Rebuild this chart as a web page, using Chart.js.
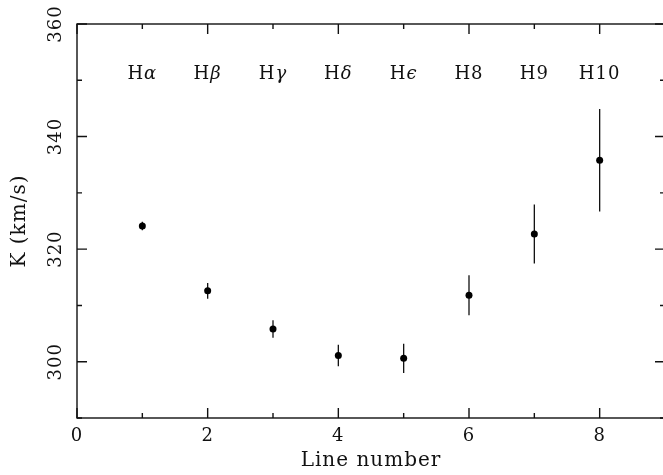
<!DOCTYPE html>
<html>
<head>
<meta charset="utf-8">
<script src="https://cdn.jsdelivr.net/npm/chart.js@4.4.1/dist/chart.umd.min.js"></script>
<style>
html,body{margin:0;padding:0;background:#fff;overflow:hidden;}
canvas{display:block;}
</style>
</head>
<body>
<canvas id="c" width="670" height="475" style="width:670px;height:475px"></canvas>
<script>
// ---- data ----
const lineNumber = [1, 2, 3, 4, 5, 6, 7, 8];
const lineNames  = ['Hα', 'Hβ', 'Hγ', 'Hδ', 'Hϵ', 'H8', 'H9', 'H10'];
const kValues    = [324.1, 312.6, 305.8, 301.1, 300.6, 311.8, 322.7, 335.8];
const kErrors    = [0.75, 1.4, 1.55, 1.9, 2.6, 3.55, 5.25, 9.1];
const xMajorTicks = [0, 2, 4, 6, 8];
const xMinorTicks = [1, 3, 5, 7];
const yMajorTicks = [300, 320, 340, 360];
const yMinorTicks = [290, 310, 330, 350];
const labelLevel = 351;

const FONT = '"DejaVu Serif", serif';
const INK = '#111';

const framePlugin = {
  id: 'frame',
  beforeDraw(chart) {
    chart.ctx.letterSpacing = '1px';
  },
  beforeDatasetsDraw(chart) {
    const {ctx, chartArea: a, scales: {x, y}} = chart;
    ctx.save();
    ctx.strokeStyle = INK;
    ctx.lineWidth = 1.3;
    // error bars
    ctx.beginPath();
    lineNumber.forEach((n, i) => {
      const px = x.getPixelForValue(n);
      ctx.moveTo(px, y.getPixelForValue(kValues[i] - kErrors[i]));
      ctx.lineTo(px, y.getPixelForValue(kValues[i] + kErrors[i]));
    });
    ctx.stroke();
    ctx.restore();
  },
  afterDraw(chart) {
    const {ctx, chartArea: a, scales: {x, y}} = chart;
    ctx.save();
    ctx.strokeStyle = INK;
    ctx.lineWidth = 1.4;
    ctx.strokeRect(a.left, a.top, a.right - a.left, a.bottom - a.top);
    ctx.beginPath();
    const xt = (v, len) => {
      const px = x.getPixelForValue(v);
      ctx.moveTo(px, a.bottom); ctx.lineTo(px, a.bottom - len);
      ctx.moveTo(px, a.top); ctx.lineTo(px, a.top + len);
    };
    const yt = (v, len) => {
      const py = y.getPixelForValue(v);
      ctx.moveTo(a.left, py); ctx.lineTo(a.left + len, py);
      ctx.moveTo(a.right, py); ctx.lineTo(a.right - len, py);
    };
    xMajorTicks.forEach(v => xt(v, 10));
    xMinorTicks.forEach(v => xt(v, 5));
    yMajorTicks.forEach(v => yt(v, 10));
    yMinorTicks.forEach(v => yt(v, 5));
    ctx.stroke();

    // rotated y tick labels
    ctx.fillStyle = INK;
    ctx.font = '18px ' + FONT;
    ctx.letterSpacing = '1px';
    ctx.textAlign = 'center';
    ctx.textBaseline = 'middle';
    yMajorTicks.forEach(v => {
      const py = y.getPixelForValue(v);
      ctx.save();
      ctx.translate(56, py);
      ctx.rotate(-Math.PI / 2);
      ctx.fillText(String(v), 0, 0);
      ctx.restore();
    });

    // line name labels
    const upFont = '18px ' + FONT;
    const itFont = 'italic 18px ' + FONT;
    lineNames.forEach((name, i) => {
      const head = name.charAt(0);
      const rest = name.slice(1);
      const greek = /[^0-9]/.test(rest);
      ctx.font = upFont;
      const w1 = ctx.measureText(head).width;
      ctx.font = greek ? itFont : upFont;
      const w2 = ctx.measureText(rest).width;
      const cx = x.getPixelForValue(lineNumber[i]);
      const cy = y.getPixelForValue(labelLevel);
      const x0 = cx - (w1 + w2) / 2;
      ctx.textAlign = 'left';
      ctx.font = upFont;
      ctx.fillText(head, x0, cy);
      ctx.font = greek ? itFont : upFont;
      ctx.fillText(rest, x0 + w1, cy);
    });
    ctx.restore();
  }
};

new Chart(document.getElementById('c'), {
  type: 'scatter',
  data: {
    datasets: [{
      data: lineNumber.map((n, i) => ({x: n, y: kValues[i]})),
      pointRadius: 3.5,
      pointHoverRadius: 3.5,
      backgroundColor: '#000',
      borderWidth: 0
    }]
  },
  options: {
    responsive: false,
    animation: false,
    devicePixelRatio: 1,
    layout: {padding: {top: 24, right: 5, left: 0, bottom: 0}},
    plugins: {legend: {display: false}, tooltip: {enabled: false}},
    scales: {
      x: {
        type: 'linear', min: 0, max: 9,
        grid: {display: false, drawTicks: false},
        border: {display: false},
        afterBuildTicks: s => { s.ticks = xMajorTicks.map(v => ({value: v})); },
        afterFit: s => { s.height = 57; },
        ticks: {color: INK, font: {family: FONT, size: 18, lineHeight: 1.2}, padding: 8, maxRotation: 0},
        title: {display: true, text: 'Line number', color: INK,
                font: {family: FONT, size: 20, lineHeight: 1.2}, padding: {top: 0, bottom: 2}}
      },
      y: {
        type: 'linear', min: 290, max: 360,
        grid: {display: false, drawTicks: false},
        border: {display: false},
        ticks: {display: false},
        afterFit: s => { s.width = 77; },
        title: {display: true, text: 'K (km/s)', color: INK,
                font: {family: FONT, size: 20, lineHeight: 1.2}, padding: {top: 8, bottom: 0}}
      }
    }
  },
  plugins: [framePlugin]
});
</script>
</body>
</html>
